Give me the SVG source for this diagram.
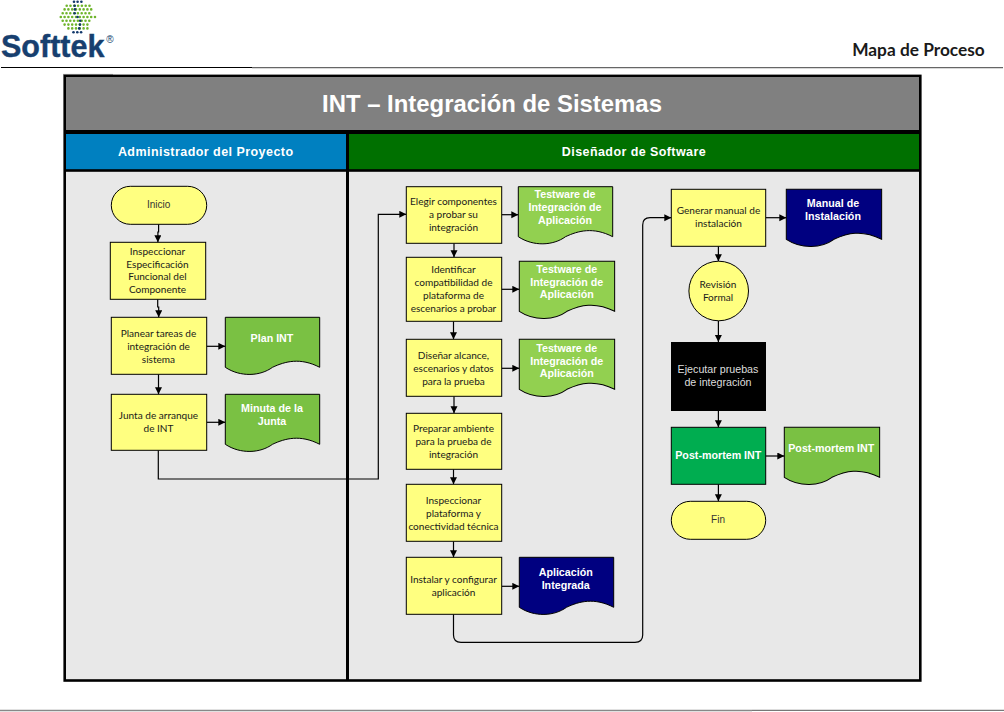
<svg xmlns="http://www.w3.org/2000/svg" xmlns:xlink="http://www.w3.org/1999/xlink" width="1004" height="712" viewBox="0 0 1004 712">
<style>
text{text-anchor:middle}
.c{font:10.05px Lato,"Liberation Sans",sans-serif;fill:#1a1a1a}
.a{font:10px "Liberation Sans",Arial,sans-serif;fill:#333}
.d{font:bold 10.7px "Liberation Sans",Arial,sans-serif;fill:#fff}
.y{fill:#ffff80;stroke:#000;stroke-width:1}
.lg{fill:#7ac143;stroke:#000;stroke-width:1}
.lm{fill:#92d050;stroke:#000;stroke-width:1}
.nv{fill:#000080;stroke:#000;stroke-width:1}
.cn{fill:none;stroke:#000;stroke-width:1.2;marker-end:url(#ah)}
.dots{fill:none;stroke-width:2.6;stroke-linecap:round;stroke-dasharray:0 3.8}
.b{fill:#12386b;stroke:none}
</style>
<defs>
<marker id="ah" markerUnits="userSpaceOnUse" markerWidth="8" markerHeight="8" refX="7" refY="3.5" orient="auto"><path d="M0 0L7 3.5L0 7z" fill="#000"/></marker>
<path id="doc" d="M0 0H94.4V50C75 40 60 44 47.2 50C35 59 15 60 0 50Z"/>
</defs>
<rect width="1004" height="712" fill="#fff"/>
<g id="header">
<g id="logo">
<path class="dots" stroke="#6fb52c" d="M66.7 5.7H90M64.6 9.4H92M62.7 13.2H92.9M60.8 17H96M62.7 20.8H93M64.6 24.6H91M68.4 28.4H88"/>
<g class="b">
<circle cx="74" cy="1.7" r="1.3"/><circle cx="77.6" cy="1.7" r="1.3"/><circle cx="81.4" cy="1.7" r="1.3"/>
<circle cx="74.7" cy="5.7" r="1.3"/><circle cx="74.9" cy="9.4" r="1.3"/><circle cx="74.7" cy="13.2" r="1.3"/><circle cx="77.6" cy="17" r="1.3"/><circle cx="80.2" cy="20.8" r="1.3"/><circle cx="80" cy="24.6" r="1.3"/><circle cx="79.2" cy="28.4" r="1.3"/>
<circle cx="73.5" cy="32.3" r="1.3"/><circle cx="77.3" cy="32.3" r="1.3"/><circle cx="81.1" cy="32.3" r="1.3"/>
</g>
<text x="1" y="57" style="text-anchor:start;font:bold 30.5px 'Liberation Sans',Arial,sans-serif;fill:#173f6f;stroke:#173f6f;stroke-width:.4">Softtek</text>
<text x="110" y="43" style="font:10px 'Liberation Sans',Arial,sans-serif;fill:#173f6f">®</text>
</g>
<text x="918.5" y="56" style="font:bold 17.3px Lato,'Liberation Sans',sans-serif;fill:#1a1a1a">Mapa de Proceso</text>
<path d="M252 67.7H1003" stroke="#666" stroke-width="1.2"/>
<path d="M1 67.5H252" stroke="#000" stroke-width="1"/>
<path d="M63 74.4H113" stroke="#aaa" stroke-width="1"/>
<path d="M0 710.5H752" stroke="#888" stroke-width="1.6"/>
<path d="M752 710.3H1004" stroke="#555" stroke-width="1"/>
</g>
<g id="frame">
<rect x="63.4" y="74.6" width="858.2" height="607.2" fill="#000"/>
<rect x="66" y="77" width="853" height="53" fill="#808080"/>
<rect x="66" y="134" width="280" height="35.2" fill="#0080c0"/>
<rect x="349" y="134" width="570" height="35.2" fill="#007000"/>
<rect x="66" y="171.8" width="280" height="507.4" fill="#e8e8e8"/>
<rect x="349" y="171.8" width="570" height="507.4" fill="#e8e8e8"/>
<text x="492" y="112" style="font:bold 23.9px 'Liberation Sans',Arial,sans-serif;fill:#fff">INT – Integración de Sistemas</text>
<text x="205.7" y="155.5" style="font:bold 12.5px 'Liberation Sans',Arial,sans-serif;fill:#fff;letter-spacing:.45px">Administrador del Proyecto</text>
<text x="634" y="155.5" style="font:bold 12.5px 'Liberation Sans',Arial,sans-serif;fill:#fff;letter-spacing:.42px">Diseñador de Software</text>
</g>
<g id="connectors">
<path class="cn" d="M158.6 224.3V232H157.9V242.3"/>
<path class="cn" d="M157.7 299.3V307H158.7V317.3"/>
<path class="cn" d="M158.5 374.3V394.3"/>
<path class="cn" d="M206.7 346.3H225.3"/>
<path class="cn" d="M206.7 422.3H225.3"/>
<path class="cn" d="M158.3 450.3V479H378.3V214.3H406.3"/>
<path class="cn" d="M501.7 214.7H518.3"/>
<path class="cn" d="M454 243.3V257.3"/>
<path class="cn" d="M501.7 289.3H519.3"/>
<path class="cn" d="M453.5 321.3V339.3"/>
<path class="cn" d="M501.7 368.3H519.3"/>
<path class="cn" d="M454 396.3V413.3"/>
<path class="cn" d="M453.5 469.3V484.3"/>
<path class="cn" d="M453.5 541.3V557.3"/>
<path class="cn" d="M501.7 586.3H519.3"/>
<path class="cn" d="M453.5 614.3V635Q453.5 642.3 461 642.3H635Q642.7 642.3 642.7 635V225Q642.7 217.7 650 217.7H671.3"/>
<path class="cn" d="M765.7 217.7H786.3"/>
<path class="cn" d="M718.4 246.3V261.3"/>
<path class="cn" d="M718.4 320.7V342"/>
<path class="cn" d="M718.4 411V427.3"/>
<path class="cn" d="M765.7 456H784.3"/>
<path class="cn" d="M718.4 484.3V501.3"/>
</g>
<g id="n-inicio"><rect class="y" x="111.3" y="186.3" width="95.4" height="38" rx="19"/><text class="a" x="158.7" y="208">Inicio</text></g>
<g id="n-inspeccionar"><rect class="y" x="110.3" y="242.3" width="95.4" height="57"/><text class="c" x="157.5"><tspan x="157.5" y="254.5">Inspeccionar</tspan><tspan x="157.5" y="267.5">Especificación</tspan><tspan x="157.5" y="280">Funcional del</tspan><tspan x="157.5" y="293">Componente</tspan></text></g>
<g id="n-planear"><rect class="y" x="111.3" y="317.3" width="95.4" height="57"/><text class="c"><tspan x="158.5" y="336.8">Planear tareas de</tspan><tspan x="158.5" y="349.5">integración de</tspan><tspan x="158.5" y="362.5">sistema</tspan></text></g>
<g id="n-planint"><use xlink:href="#doc" href="#doc" class="lg" x="225.3" y="317.3"/><text class="d" x="272" y="342">Plan INT</text></g>
<g id="n-junta"><rect class="y" x="111.3" y="394.3" width="95.4" height="56"/><text class="c"><tspan x="158.5" y="419.2">Junta de arranque</tspan><tspan x="158.5" y="432.2">de INT</tspan></text></g>
<g id="n-minuta"><use xlink:href="#doc" href="#doc" class="lg" x="225.3" y="394.3"/><text class="d"><tspan x="272" y="412">Minuta de la</tspan><tspan x="272" y="425">Junta</tspan></text></g>
<g id="n-elegir"><rect class="y" x="406.3" y="186.7" width="95.4" height="56.6"/><text class="c"><tspan x="453.5" y="205.2">Elegir componentes</tspan><tspan x="453.5" y="217.8">a probar su</tspan><tspan x="453.5" y="230.8">integración</tspan></text></g>
<g id="n-test1"><use xlink:href="#doc" href="#doc" class="lm" x="518.3" y="186.7"/><text class="d"><tspan x="565" y="198">Testware de</tspan><tspan x="565" y="211">Integración de</tspan><tspan x="565" y="224">Aplicación</tspan></text></g>
<g id="n-identificar"><rect class="y" x="406.3" y="257.3" width="95.4" height="64"/><text class="c"><tspan x="453.5" y="273.2">Identificar</tspan><tspan x="453.5" y="286.2">compatibilidad de</tspan><tspan x="453.5" y="299.2">plataforma de</tspan><tspan x="453.5" y="311.5">escenarios a probar</tspan></text></g>
<g id="n-test2"><use xlink:href="#doc" href="#doc" class="lm" transform="translate(519.3 261.3) scale(1.01 1)"/><text class="d"><tspan x="566.7" y="273">Testware de</tspan><tspan x="566.7" y="286">Integración de</tspan><tspan x="566.7" y="298">Aplicación</tspan></text></g>
<g id="n-disenar"><rect class="y" x="406.3" y="339.3" width="95.4" height="57"/><text class="c"><tspan x="453.5" y="358.8">Diseñar alcance,</tspan><tspan x="453.5" y="371.5">escenarios y datos</tspan><tspan x="453.5" y="384.5">para la prueba</tspan></text></g>
<g id="n-test3"><use xlink:href="#doc" href="#doc" class="lm" transform="translate(519.3 339.3) scale(1.01 1)"/><text class="d"><tspan x="566.7" y="351.7">Testware de</tspan><tspan x="566.7" y="364.5">Integración de</tspan><tspan x="566.7" y="377">Aplicación</tspan></text></g>
<g id="n-preparar"><rect class="y" x="406.3" y="413.3" width="95.4" height="56"/><text class="c"><tspan x="453.5" y="431.8">Preparar ambiente</tspan><tspan x="453.5" y="444.5">para la prueba de</tspan><tspan x="453.5" y="457.5">integración</tspan></text></g>
<g id="n-inspplat"><rect class="y" x="406.3" y="484.3" width="95.4" height="57"/><text class="c"><tspan x="453.5" y="503.5">Inspeccionar</tspan><tspan x="453.5" y="516.5">plataforma y</tspan><tspan x="453.5" y="529.5">conectividad técnica</tspan></text></g>
<g id="n-instalar"><rect class="y" x="406.3" y="557.3" width="95.4" height="57"/><text class="c"><tspan x="453.5" y="582.5">Instalar y configurar</tspan><tspan x="453.5" y="595.5">aplicación</tspan></text></g>
<g id="n-aplint"><use xlink:href="#doc" href="#doc" class="nv" x="519.3" y="557.3"/><text class="d"><tspan x="565.7" y="575.7">Aplicación</tspan><tspan x="565.7" y="588.7">Integrada</tspan></text></g>
<g id="n-generar"><rect class="y" x="671.3" y="189.3" width="94.4" height="57"/><text class="c"><tspan x="718.5" y="214.2">Generar manual de</tspan><tspan x="718.5" y="227.2">instalación</tspan></text></g>
<g id="n-manual"><use xlink:href="#doc" href="#doc" class="nv" transform="translate(786.3 189.3) scale(1.01 1)"/><text class="d"><tspan x="833" y="207">Manual de</tspan><tspan x="833" y="220">Instalación</tspan></text></g>
<g id="n-revision"><circle class="y" cx="718.7" cy="291" r="29.8"/><text class="c"><tspan x="718" y="287.5">Revisión</tspan><tspan x="718" y="300.5">Formal</tspan></text></g>
<g id="n-ejecutar"><rect x="671" y="342" width="95" height="69" fill="#000"/><text style="font:10.7px 'Liberation Sans',Arial,sans-serif;fill:#ddd"><tspan x="718" y="373">Ejecutar pruebas</tspan><tspan x="718" y="386">de integración</tspan></text></g>
<g id="n-post"><rect x="671.3" y="427.3" width="94.4" height="57" fill="#00ad50" stroke="#000"/><text class="d" x="718.3" y="459">Post-mortem INT</text></g>
<g id="n-postdoc"><use xlink:href="#doc" href="#doc" class="lg" transform="translate(784.3 427.3) scale(1.01 1)"/><text class="d" x="831.3" y="452">Post-mortem INT</text></g>
<g id="n-fin"><rect class="y" x="671.3" y="501.3" width="94.4" height="38" rx="19"/><text class="a" x="718" y="523">Fin</text></g>
</svg>
